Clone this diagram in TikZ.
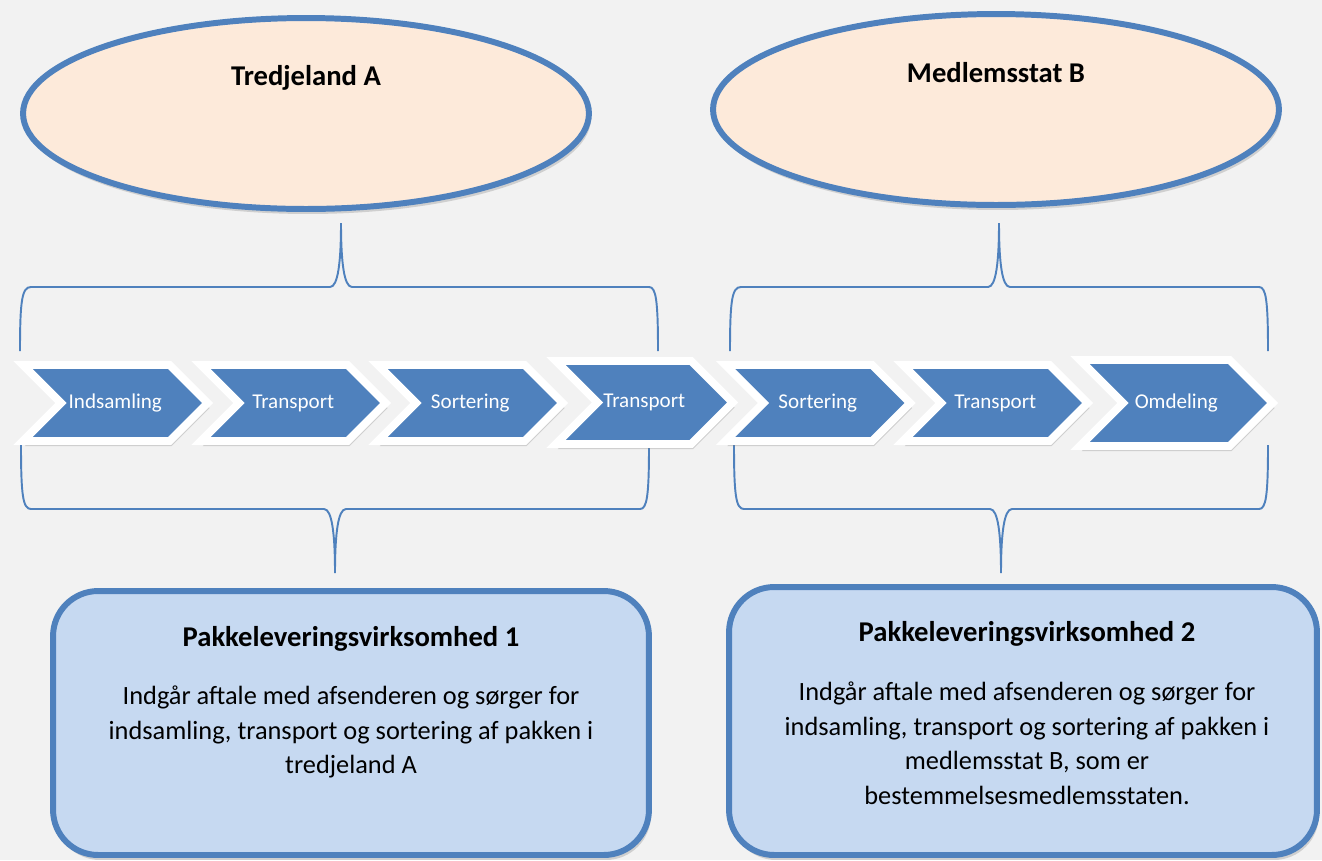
\documentclass[tikz,border=0pt]{standalone}
\usepackage{fontspec}
\setmainfont{Carlito}
\usetikzlibrary{shapes.geometric,shapes.symbols,shadows}

\definecolor{bggray}{HTML}{F2F2F2}
\definecolor{officeblue}{HTML}{4F81BD}
\definecolor{peach}{HTML}{FDEADA}
\definecolor{paleblue}{HTML}{C6D9F1}

\tikzset{
    softshadow/.style={drop shadow={opacity=0.3, shadow xshift=0.04cm, shadow yshift=-0.1cm}},
    country/.style={ellipse, draw=officeblue, line width=3.4pt, fill=peach, inner sep=0pt,
        minimum width=11.32cm, minimum height=3.82cm, softshadow},
    stepbox/.style={signal, signal from=west, signal to=east, signal pointer angle=90,
        fill=officeblue, draw=white, line width=4.5pt, text=white, inner sep=0pt,
        font=\fontsize{12}{14}\selectfont, softshadow},
    firm/.style={rectangle, rounded corners=0.9cm, draw=officeblue, line width=3.4pt,
        fill=paleblue, inner sep=0pt, softshadow},
    brace/.style={officeblue, line width=1.1pt},
    heading/.style={anchor=base, font=\fontsize{16.3}{20}\selectfont\bfseries},
    bodytext/.style={anchor=base, align=center, font=\fontsize{15}{19.6}\selectfont},
}

\begin{document}
\begin{tikzpicture}[x=0.02cm, y=-0.02cm]

    \fill[bggray] (0,0) rectangle (1322,860);
    \useasboundingbox (0,0) rectangle (1322,860);

    % Countries
    \node[country] (tredje) at (306,113.5) {};
    \node[heading] (tredjetxt) at (306,85) {Tredjeland A};
    \node[country] (medlem) at (996,109.5) {};
    \node[heading] (medlemtxt) at (996,82) {Medlemsstat B};

    % Braces
    \draw[brace] (20,351) .. controls (20,300) and (22,287) .. (31,287) -- (330,287)
        .. controls (338,287) and (341,262) .. (341,223) .. controls (341,262) and (344,287) .. (352,287)
        -- (649,287) .. controls (656,287) and (658,300) .. (658,351);
    \draw[brace] (730,351) .. controls (730,300) and (732,287) .. (741,287) -- (988,287)
        .. controls (996,287) and (999,262) .. (999,223) .. controls (999,262) and (1002,287) .. (1010,287)
        -- (1259,287) .. controls (1266,287) and (1268,300) .. (1268,351);

    \draw[brace] (21,445) .. controls (21,496) and (23,509) .. (31,509) -- (324,509)
        .. controls (332,509) and (335,534) .. (335,573) .. controls (335,534) and (338,509) .. (346,509)
        -- (640,509) .. controls (647,509) and (649,496) .. (649,445);
    \draw[brace] (734,445) .. controls (734,496) and (736,509) .. (744,509) -- (990,509)
        .. controls (998,509) and (1001,534) .. (1001,573) .. controls (1001,534) and (1004,509) .. (1012,509)
        -- (1259,509) .. controls (1266,509) and (1268,496) .. (1268,445);

    % Chain of steps
    \node[stepbox, minimum width=3.694cm, minimum height=1.52cm] (s1) at (115.3,403) {Indsamling};
    \node[stepbox, minimum width=3.694cm, minimum height=1.52cm] (s2) at (293.3,403) {Transport};
    \node[stepbox, minimum width=3.694cm, minimum height=1.52cm] (s3) at (470.3,403) {Sortering};
    \node[stepbox, minimum width=3.534cm, minimum height=1.66cm] (s4) at (644.3,402.5) {Transport};
    \node[stepbox, minimum width=3.694cm, minimum height=1.52cm] (s5) at (817.8,403) {Sortering};
    \node[stepbox, minimum width=3.694cm, minimum height=1.52cm] (s6) at (995.3,403) {Transport};
    \node[stepbox, minimum width=3.854cm, minimum height=1.72cm] (s7) at (1176.3,403) {Omdeling};

    % Companies
    \node[firm, minimum width=11.92cm, minimum height=5.28cm] (firm1) at (351,723) {};
    \node[heading] (firm1head) at (351,646) {Pakkeleveringsvirksomhed 1};
    \node[bodytext] (firm1txt) at (351,773.5) {Indgår aftale med afsenderen og sørger for\\
        indsamling, transport og sortering af pakken i\\ tredjeland A};

    \node[firm, minimum width=11.76cm, minimum height=5.36cm] (firm2) at (1023,721) {};
    \node[heading] (firm2head) at (1027,641) {Pakkeleveringsvirksomhed 2};
    \node[bodytext] (firm2txt) at (1027,804) {Indgår aftale med afsenderen og sørger for\\
        indsamling, transport og sortering af pakken i\\ medlemsstat B, som er\\
        bestemmelsesmedlemsstaten.};

\end{tikzpicture}
\end{document}
